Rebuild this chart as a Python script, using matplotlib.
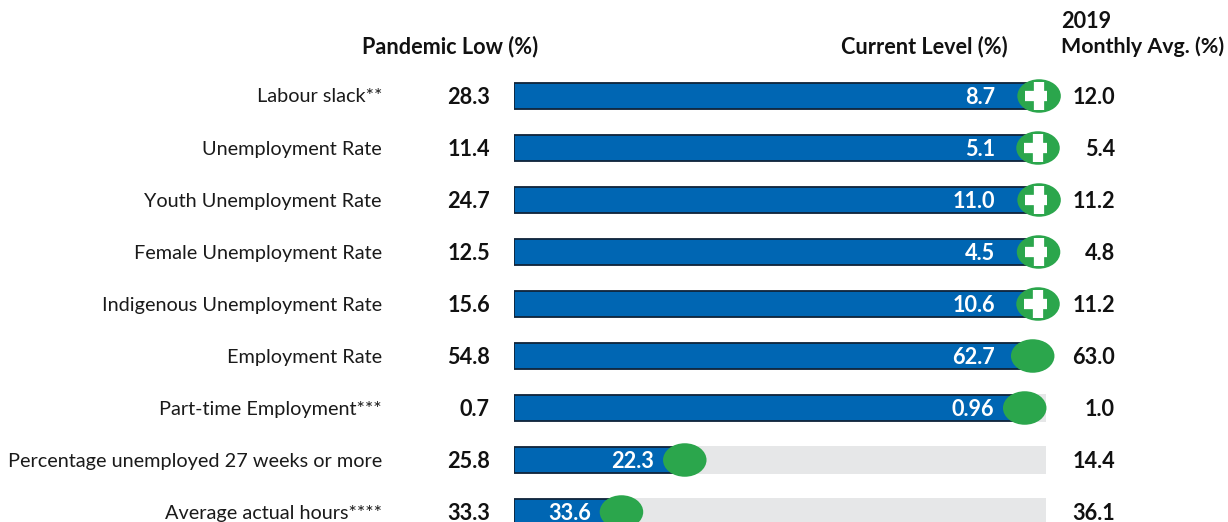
import matplotlib
matplotlib.use('Agg')
import matplotlib.pyplot as plt
from matplotlib.patches import Ellipse

plt.rcParams['font.family'] = ['Lato', 'DejaVu Sans']

labels = ['Labour slack**', 'Unemployment Rate', 'Youth Unemployment Rate',
          'Female Unemployment Rate', 'Indigenous Unemployment Rate', 'Employment Rate',
          'Part-time Employment***', 'Percentage unemployed 27 weeks or more',
          'Average actual hours****']
pandemic_low = ['28.3', '11.4', '24.7', '12.5', '15.6', '54.8', '0.7', '25.8', '33.3']
current = ['8.7', '5.1', '11.0', '4.5', '10.6', '62.7', '0.96', '22.3', '33.6']
avg_2019 = ['12.0', '5.4', '11.2', '4.8', '11.2', '63.0', '1.0', '14.4', '36.1']
# recovery progress as % of the track
progress = [98.7, 98.5, 98.7, 98.6, 98.5, 97.5, 96.0, 32.1, 20.2]
recovered = [True, True, True, True, True, False, False, False, False]

BLUE = '#0066b3'
GREEN = '#2ba64c'
GREY = '#e6e7e8'
W, H = 1228, 522
LEFT, TRACK = 514, 532


def xpos(px):
    # figure pixel -> track percent
    return (px - LEFT) / TRACK * 100


fig = plt.figure(figsize=(W / 100, H / 100), dpi=100)
ax = fig.add_axes([LEFT / W, 0, TRACK / W, 1])
ax.set_xlim(0, 100)
ax.set_ylim((H - 96) / 52, -96 / 52)
ax.axis('off')

rows = range(len(labels))
ax.barh(rows, [100] * len(labels), height=0.54, color=GREY, linewidth=0)
ax.barh(rows, progress, height=0.5, color=BLUE, edgecolor='#10243a', linewidth=1.3)

fs = 14.3
fs_bold = 15.6
dy = 1 / 52
for i in rows:
    ax.add_patch(Ellipse((progress[i], i), 43.5 / TRACK * 100, 33.5 / 52, color=GREEN,
                         linewidth=0, zorder=4, clip_on=False))
    if recovered[i]:
        ax.plot(progress[i], i, marker='+', ms=20.5, mew=7.4, color='white', zorder=5, snap=False)
    ax.text(xpos(382), i + dy, labels[i], ha='right', va='center', fontsize=fs, color='#1a1a1a')
    ax.text(xpos(490), i + dy, pandemic_low[i], ha='right', va='center', fontsize=fs_bold,
            fontweight='bold', color='#111111')
    ax.text(xpos(1115), i + dy, avg_2019[i], ha='right', va='center', fontsize=fs_bold,
            fontweight='bold', color='#111111')
    # value sits left of the marker, but stops short of the track end
    ax.text(min(progress[i] - 5.7, xpos(995)), i + dy, current[i], ha='right', va='center',
            fontsize=fs_bold, fontweight='bold', color='white', zorder=3)

head_y = (47 - 96) / 52
ax.text(xpos(450), head_y, 'Pandemic Low (%)', ha='center', va='center', fontsize=fs_bold,
        fontweight='bold', color='#111111')
ax.text(xpos(1008), head_y, 'Current Level (%)', ha='right', va='center', fontsize=fs_bold,
        fontweight='bold', color='#111111')
ax.text(xpos(1061), head_y, 'Monthly Avg. (%)', ha='left', va='center', fontsize=15.4,
        fontweight='bold', color='#111111')
ax.text(xpos(1061), (22 - 96) / 52, '2019', ha='left', va='center', fontsize=fs_bold,
        fontweight='bold', color='#111111')

fig.savefig('out.png', dpi=100)
